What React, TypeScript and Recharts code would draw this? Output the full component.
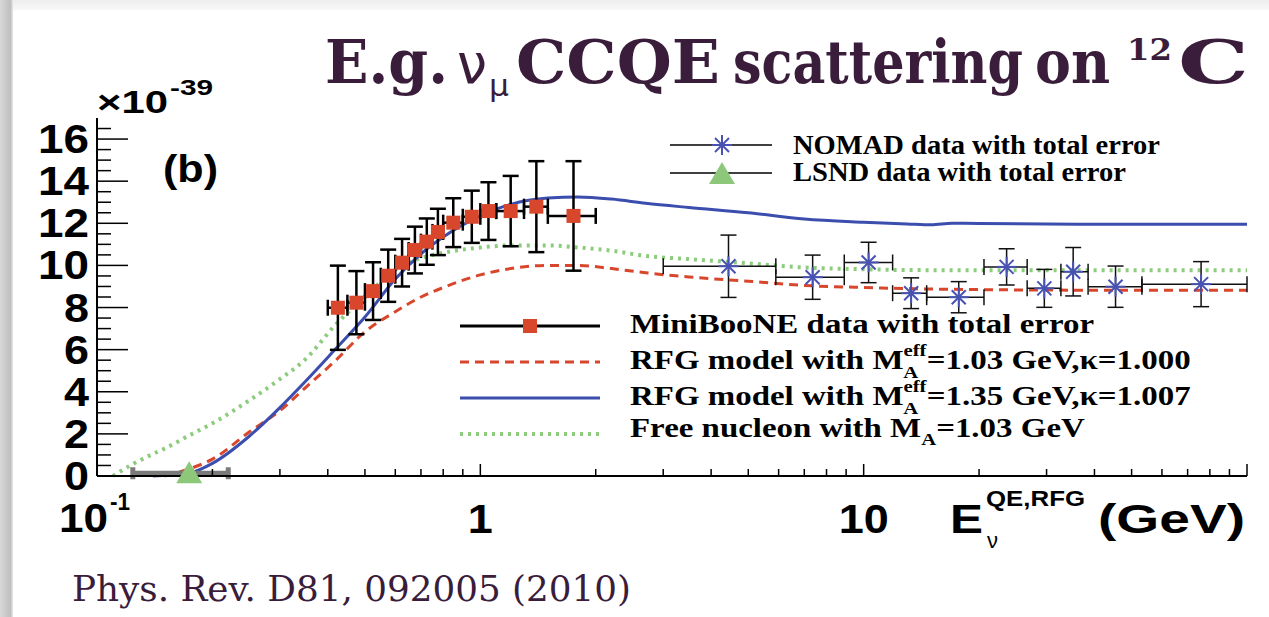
import React from "react";
import {
  ComposedChart,
  Line,
  Scatter,
  XAxis,
  YAxis,
  ErrorBar
} from "recharts";

// MiniBooNE data (bin centres, bin edges, cross section, total error) in 1e-39 cm^2
const mbEnergy = [0.425, 0.475, 0.525, 0.575, 0.625, 0.675, 0.725, 0.775, 0.85, 0.95, 1.05, 1.2, 1.4, 1.75];
const mbBinLow = [0.4, 0.45, 0.5, 0.55, 0.6, 0.65, 0.7, 0.75, 0.8, 0.9, 1.0, 1.1, 1.3, 1.5];
const mbBinHigh = [0.45, 0.5, 0.55, 0.6, 0.65, 0.7, 0.75, 0.8, 0.9, 1.0, 1.1, 1.3, 1.5, 2.0];
const mbXsec = [7.99, 8.23, 8.78, 9.51, 10.13, 10.73, 11.13, 11.59, 12.03, 12.31, 12.58, 12.58, 12.79, 12.35];
const mbError = [2.0, 1.5, 1.37, 1.24, 1.13, 1.11, 1.1, 1.1, 1.16, 1.24, 1.37, 1.67, 2.16, 2.6];

// NOMAD data
const nomadEnergy = [4.44, 7.36, 10.3, 13.3, 17.7, 23.6, 29.6, 35.2, 45.4, 75.9];
const nomadBinLow = [3.0, 5.9, 8.9, 11.9, 14.6, 20.6, 26.7, 32.7, 38.5, 53.2];
const nomadBinHigh = [5.9, 8.9, 11.9, 14.6, 20.6, 26.7, 32.7, 38.5, 53.2, 100];
const nomadXsec = [9.96, 9.44, 10.14, 8.68, 8.49, 9.93, 8.91, 9.7, 8.99, 9.11];
const nomadError = [1.48, 1.05, 0.96, 0.73, 0.74, 0.86, 0.9, 1.15, 0.98, 1.07];

// LSND data
const lsndEnergy = [0.174];
const lsndBinLow = [0.124];
const lsndBinHigh = [0.22];
const lsndXsec = [0.13];
const lsndError = [0.1];

// RFG model, MA_eff = 1.03 GeV, kappa = 1.000 (red dashed)
const rfg103Energy = [0.15, 0.175, 0.2, 0.25, 0.3, 0.35, 0.42, 0.5, 0.6, 0.7, 0.8, 1.0, 1.2, 1.5, 1.8, 2.2, 2.7, 3.5, 5, 7, 10, 13, 20, 30, 50, 100];
const rfg103Xsec = [0, 0.35, 0.8, 2.1, 3.1, 4.2, 5.5, 6.85, 7.8, 8.5, 8.95, 9.55, 9.85, 10.0, 10.0, 9.85, 9.65, 9.45, 9.25, 9.05, 8.95, 8.9, 8.85, 8.83, 8.82, 8.82];

// RFG model, MA_eff = 1.35 GeV, kappa = 1.007 (blue solid)
const rfg135Energy = [0.14, 0.15, 0.175, 0.2, 0.25, 0.3, 0.35, 0.42, 0.5, 0.6, 0.7, 0.8, 1.0, 1.2, 1.5, 1.8, 2.2, 2.7, 3.5, 5, 7, 10, 13, 15, 17, 20, 30, 50, 100];
const rfg135Xsec = [0, 0.03, 0.15, 0.6, 1.9, 3.25, 4.5, 6.05, 7.55, 9.35, 10.55, 11.35, 12.35, 12.9, 13.2, 13.25, 13.15, 12.95, 12.75, 12.5, 12.2, 12.05, 11.97, 11.93, 12.0, 11.99, 11.97, 11.95, 11.95];

// Free nucleon, MA = 1.03 GeV (green dotted)
const freeEnergy = [0.11, 0.125, 0.14, 0.15, 0.175, 0.2, 0.25, 0.3, 0.35, 0.42, 0.5, 0.6, 0.7, 0.8, 1.0, 1.2, 1.5, 1.8, 2.2, 2.7, 3.5, 5, 7, 10, 13, 20, 50, 100];
const freeXsec = [0, 0.6, 1.05, 1.3, 1.95, 2.5, 3.6, 4.6, 5.55, 7.2, 8.5, 9.8, 10.35, 10.6, 10.85, 10.95, 10.95, 10.85, 10.7, 10.45, 10.3, 10.1, 9.9, 9.82, 9.78, 9.77, 9.77, 9.77];

const xTicks = [0.1, 0.2, 0.3, 0.4, 0.5, 0.6, 0.7, 0.8, 0.9, 1, 2, 3, 4, 5, 6, 7, 8, 9, 10, 20, 30, 40, 50, 60, 70, 80, 90, 100];
const yTicks = [0, 0.5, 1, 1.5, 2, 2.5, 3, 3.5, 4, 4.5, 5, 5.5, 6, 6.5, 7, 7.5, 8, 8.5, 9, 9.5, 10, 10.5, 11, 11.5, 12, 12.5, 13, 13.5, 14, 14.5, 15, 15.5, 16, 16.5];

const curve = (es: number[], ys: number[]) => es.map((e, i) => ({ e, y: ys[i] }));
const points = (es: number[], lo: number[], hi: number[], ys: number[], err: number[]) =>
  es.map((e, i) => ({ e, y: ys[i], ex: [e - lo[i], hi[i] - e], ey: err[i] }));

const PURPLE = "#3a1c3b";
const SANS = "'Liberation Sans', Arial, sans-serif";
const SERIF = "'Liberation Serif', 'Times New Roman', serif";
const TITLE = "'DejaVu Serif Condensed', 'DejaVu Serif', serif";

const YTick = (props: any) => {
  const { x, y, payload } = props;
  const v = payload.value;
  const major = v % 2 === 0;
  return (
    <g>
      <line x1={x} x2={x + (major ? 31 : 14)} y1={y} y2={y} stroke="#000" strokeWidth={1.5} />
      {major && (
        <text x={x - 8} y={y + 14} textAnchor="end" fontFamily={SANS} fontWeight="bold" fontSize={40}
          textLength={v >= 10 ? 51 : 25} lengthAdjust="spacingAndGlyphs" fill="#000">
          {v}
        </text>
      )}
    </g>
  );
};

const XTick = (props: any) => {
  const { x, y, payload } = props;
  const v = payload.value;
  const major = v === 0.1 || v === 1 || v === 10 || v === 100;
  return (
    <g>
      <line x1={x} x2={x} y1={y} y2={y - (major ? 12 : 7)} stroke="#000" strokeWidth={1.5} />
      {v === 0.1 && (
        <g fontFamily={SANS} fontWeight="bold" fill="#000">
          <text x={59} y={y + 56} fontSize={40} textLength={49} lengthAdjust="spacingAndGlyphs">10</text>
          <text x={110} y={y + 34} fontSize={24} textLength={20} lengthAdjust="spacingAndGlyphs">-1</text>
        </g>
      )}
      {v === 1 && (
        <text x={x} y={y + 57} textAnchor="middle" fontFamily={SANS} fontWeight="bold" fontSize={40}
          textLength={25} lengthAdjust="spacingAndGlyphs" fill="#000">1</text>
      )}
      {v === 10 && (
        <text x={x} y={y + 57} textAnchor="middle" fontFamily={SANS} fontWeight="bold" fontSize={40}
          textLength={50} lengthAdjust="spacingAndGlyphs" fill="#000">10</text>
      )}
    </g>
  );
};

const RedSquare = (props: any) => {
  const { cx, cy } = props;
  return <rect x={cx - 7} y={cy - 7} width={14} height={14} fill="#d8472b" />;
};

const BlueStar = (props: any) => {
  const { cx, cy } = props;
  const r = 10;
  const d = 7;
  return (
    <g stroke="#4752b2" strokeWidth={2}>
      <line x1={cx - d} y1={cy - d} x2={cx + d} y2={cy + d} />
      <line x1={cx - d} y1={cy + d} x2={cx + d} y2={cy - d} />
      <line x1={cx} y1={cy - r} x2={cx} y2={cy + r} />
      <line x1={cx - r} y1={cy} x2={cx + r} y2={cy} />
    </g>
  );
};

const GreenTriangle = (props: any) => {
  const { cx, cy } = props;
  return <polygon points={`${cx},${cy - 12} ${cx - 13},${cy + 10} ${cx + 13},${cy + 10}`} fill="#8dc87a" />;
};

const Overlay = () => (
  <svg width={1269} height={617} style={{ position: "absolute", left: 0, top: 0, pointerEvents: "none" }}>
    <defs>
      <linearGradient id="leftStrip" x1="0" x2="1" y1="0" y2="0">
        <stop offset="0" stopColor="#d9d9d9" />
        <stop offset="0.8" stopColor="#bfbfbf" />
        <stop offset="1" stopColor="#e8e8e8" />
      </linearGradient>
      <linearGradient id="topStrip" x1="0" x2="0" y1="0" y2="1">
        <stop offset="0" stopColor="#eeeeee" />
        <stop offset="1" stopColor="#f8f8f8" />
      </linearGradient>
    </defs>
    <rect x={0} y={0} width={1269} height={10} fill="url(#topStrip)" />
    <rect x={0} y={0} width={13} height={617} fill="url(#leftStrip)" />

    {/* slide title */}
    <g fontFamily={TITLE} fontWeight="bold" fill={PURPLE}>
      <text x={325} y={83} fontSize={59} textLength={123} lengthAdjust="spacingAndGlyphs">E.g.</text>
      <text x={457} y={83} fontSize={56} fontFamily="'DejaVu Sans', sans-serif" fontWeight="normal" textLength={30} lengthAdjust="spacingAndGlyphs">ν</text>
      <text x={489} y={96} fontSize={30} fontFamily="'DejaVu Sans', sans-serif" fontWeight="normal" textLength={20} lengthAdjust="spacingAndGlyphs">μ</text>
      <text x={516} y={83} fontSize={59} textLength={204} lengthAdjust="spacingAndGlyphs">CCQE</text>
      <text x={733} y={83} fontSize={59} textLength={290} lengthAdjust="spacingAndGlyphs">scattering</text>
      <text x={1035} y={83} fontSize={59} textLength={75} lengthAdjust="spacingAndGlyphs">on</text>
      <text x={1127} y={60} fontSize={30} textLength={45} lengthAdjust="spacingAndGlyphs">12</text>
      <text x={1178} y={83} fontSize={59} textLength={71} lengthAdjust="spacingAndGlyphs">C</text>
    </g>

    {/* reference */}
    <text x={72} y={601} fontFamily="'DejaVu Serif', serif" fontSize={36} fill={PURPLE} textLength={559} lengthAdjust="spacingAndGlyphs">
      Phys. Rev. D81, 092005 (2010)
    </text>

    {/* axis scale factor and panel label */}
    <g fontFamily={SANS} fontWeight="bold" fill="#000">
      <text x={97} y={113} fontSize={32} textLength={71} lengthAdjust="spacingAndGlyphs">×10</text>
      <text x={170} y={95} fontSize={22} textLength={43} lengthAdjust="spacingAndGlyphs">-39</text>
      <text x={163} y={182} fontSize={38} textLength={55} lengthAdjust="spacingAndGlyphs">(b)</text>
    </g>

    {/* x axis title */}
    <g fontFamily={SANS} fontWeight="bold" fill="#000">
      <text x={950} y={533} fontSize={40} textLength={33} lengthAdjust="spacingAndGlyphs">E</text>
      <text x={986} y={506} fontSize={22} textLength={99} lengthAdjust="spacingAndGlyphs">QE,RFG</text>
      <text x={987} y={548} fontSize={22} fontWeight="normal">ν</text>
      <text x={1098} y={533} fontSize={40} textLength={147} lengthAdjust="spacingAndGlyphs">(GeV)</text>
    </g>

    {/* legend: NOMAD / LSND */}
    <g>
      <line x1={670} x2={772} y1={145} y2={145} stroke="#000" strokeWidth={1.5} />
      <BlueStar cx={722} cy={145} />
      <line x1={670} x2={772} y1={173} y2={173} stroke="#000" strokeWidth={1.5} />
      <GreenTriangle cx={722} cy={174} />
    </g>
    <g fontFamily={SERIF} fontWeight="bold" fontSize={27} fill="#000">
      <text x={793} y={154} textLength={367} lengthAdjust="spacingAndGlyphs">NOMAD data with total error</text>
      <text x={793} y={181} textLength={333} lengthAdjust="spacingAndGlyphs">LSND data with total error</text>
    </g>

    {/* legend: MiniBooNE and models */}
    <g>
      <line x1={460} x2={600} y1={326} y2={326} stroke="#000" strokeWidth={3} />
      <RedSquare cx={530} cy={326} />
      <line x1={460} x2={600} y1={362} y2={362} stroke="#d8472b" strokeWidth={3} strokeDasharray="9 6" />
      <line x1={460} x2={600} y1={398} y2={398} stroke="#3b4eae" strokeWidth={3} />
      <line x1={460} x2={600} y1={434} y2={434} stroke="#8dcc7c" strokeWidth={4} strokeDasharray="3 5" />
    </g>
    <g fontFamily={SERIF} fontWeight="bold" fontSize={27} fill="#000" transform="translate(630 0) scale(1.22 1) translate(-630 0)">
      <text x={630} y={333}>MiniBooNE data with total error</text>
      <text x={630} y={369}>
        RFG model with M
        <tspan fontSize={17} dy={-13}>eff</tspan>
        <tspan fontSize={17} dx={-19} dy={22}>A</tspan>
        <tspan dx={7} dy={-9}>=1.03 GeV,κ=1.000</tspan>
      </text>
      <text x={630} y={405}>
        RFG model with M
        <tspan fontSize={17} dy={-13}>eff</tspan>
        <tspan fontSize={17} dx={-19} dy={22}>A</tspan>
        <tspan dx={7} dy={-9}>=1.35 GeV,κ=1.007</tspan>
      </text>
      <text x={630} y={437}>
        Free nucleon with M
        <tspan fontSize={17} dy={8}>A</tspan>
        <tspan dy={-8}>=1.03 GeV</tspan>
      </text>
    </g>
  </svg>
);

export default function App() {
  const mbData = points(mbEnergy, mbBinLow, mbBinHigh, mbXsec, mbError);
  const nomadData = points(nomadEnergy, nomadBinLow, nomadBinHigh, nomadXsec, nomadError);
  const lsndData = points(lsndEnergy, lsndBinLow, lsndBinHigh, lsndXsec, lsndError);

  return (
    <div style={{ position: "absolute", left: 0, top: 0, width: 1269, height: 617, background: "#fff", overflow: "hidden" }}>
      <ComposedChart width={1269} height={617} margin={{ top: 118, right: 22, bottom: 71, left: 7 }}>
        <XAxis
          dataKey="e"
          type="number"
          scale="log"
          domain={[0.1, 100]}
          ticks={xTicks}
          interval={0}
          tick={<XTick />}
          tickLine={false}
          tickSize={0}
          tickMargin={0}
          axisLine={{ stroke: "#000", strokeWidth: 2 }}
          height={70}
        />
        <XAxis
          xAxisId="top"
          orientation="top"
          dataKey="e"
          type="number"
          scale="log"
          domain={[0.1, 100]}
          height={0}
          tick={false}
          tickLine={false}
          axisLine={{ stroke: "#000", strokeWidth: 2 }}
        />
        <YAxis
          type="number"
          domain={[0, 17]}
          ticks={yTicks}
          interval={0}
          tick={<YTick />}
          tickLine={false}
          tickSize={0}
          tickMargin={0}
          axisLine={{ stroke: "#000", strokeWidth: 2 }}
          width={90}
        />
        <YAxis
          yAxisId="right"
          orientation="right"
          type="number"
          domain={[0, 17]}
          width={0}
          tick={false}
          tickLine={false}
          axisLine={{ stroke: "#000", strokeWidth: 2 }}
        />

        <Line data={curve(freeEnergy, freeXsec)} dataKey="y" type="monotone" stroke="#8dcc7c" strokeWidth={4}
          strokeDasharray="3 5" dot={false} activeDot={false} isAnimationActive={false} />
        <Line data={curve(rfg103Energy, rfg103Xsec)} dataKey="y" type="monotone" stroke="#d8472b" strokeWidth={3}
          strokeDasharray="9 6" dot={false} activeDot={false} isAnimationActive={false} />
        <Line data={curve(rfg135Energy, rfg135Xsec)} dataKey="y" type="monotone" stroke="#3b4eae" strokeWidth={3}
          dot={false} activeDot={false} isAnimationActive={false} />

        <Scatter data={lsndData} dataKey="y" shape={<GreenTriangle />} isAnimationActive={false}>
          <ErrorBar dataKey="ex" direction="x" width={6} stroke="#7a7a7a" strokeWidth={5} />
        </Scatter>
        <Scatter data={nomadData} dataKey="y" shape={<BlueStar />} isAnimationActive={false}>
          <ErrorBar dataKey="ex" direction="x" width={8} stroke="#111" strokeWidth={1.5} />
          <ErrorBar dataKey="ey" direction="y" width={8} stroke="#111" strokeWidth={1.5} />
        </Scatter>
        <Scatter data={mbData} dataKey="y" shape={<RedSquare />} isAnimationActive={false}>
          <ErrorBar dataKey="ex" direction="x" width={8} stroke="#000" strokeWidth={2.5} />
          <ErrorBar dataKey="ey" direction="y" width={8} stroke="#000" strokeWidth={2.5} />
        </Scatter>
      </ComposedChart>
      <Overlay />
    </div>
  );
}
